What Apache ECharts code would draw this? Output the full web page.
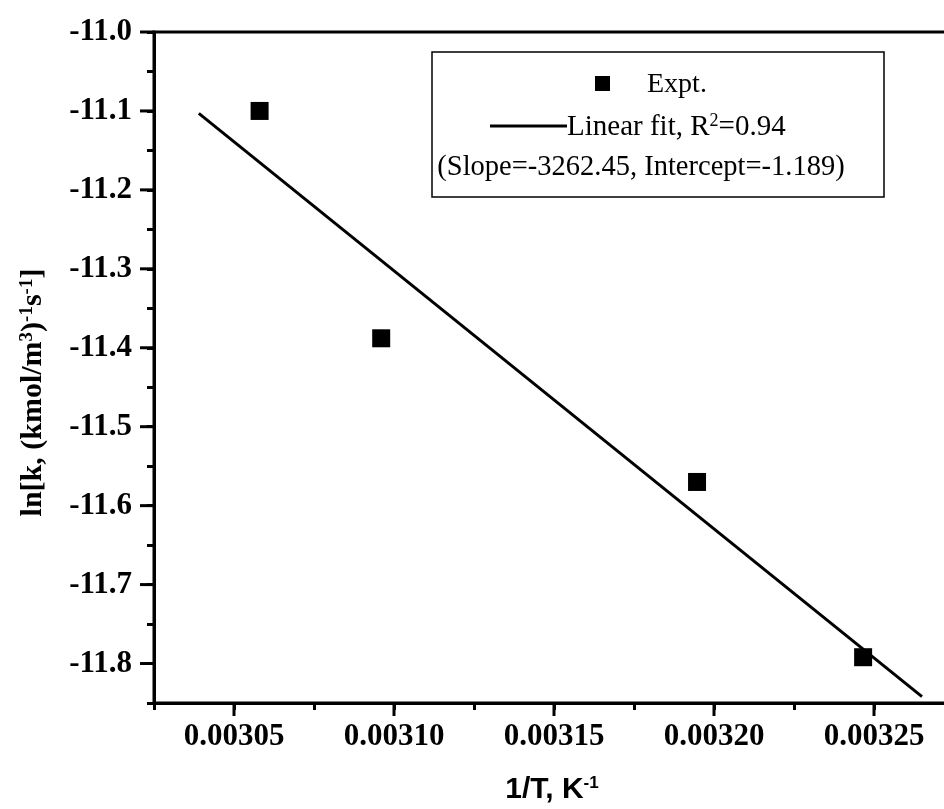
<!DOCTYPE html>
<html>
<head>
<meta charset="utf-8">
<script src="https://cdn.jsdelivr.net/npm/echarts@6/dist/echarts.min.js"></script>
<style>
html,body{margin:0;padding:0;background:#fff;}
#chart{width:944px;height:809px;}
</style>
</head>
<body>
<div id="chart"></div>
<script>
// ---- data ----
const exptX = [0.003058, 0.003096, 0.0031947, 0.0032466];
const exptY = [-11.100, -11.388, -11.570, -11.792];
const fitX = [0.003039, 0.003265];
const fitY = [-11.103, -11.842];
const xMajorTicks = [0.00305, 0.00310, 0.00315, 0.00320, 0.00325];
const yMajorTicks = [-11.8, -11.7, -11.6, -11.5, -11.4, -11.3, -11.2, -11.1, -11.0];
const legendExpt = 'Expt.';
const legendFit = 'Linear fit, R{sup|2}=0.94';
const legendFitParams = '(Slope=-3262.45, Intercept=-1.189)';
const xTitle = '1/T, K{sup|-1}';
const yTitle = 'ln[k, (kmol/m{sup|3}){sup|-1}s{sup|-1}]';

const X_MIN = 0.003025, X_MAX = 0.00328, X_MINOR = 0.000025;
const Y_MIN = -11.85, Y_MAX = -11.0, Y_MINOR = 0.05;

const serif = '"Liberation Serif", "Times New Roman", serif';
const sans = '"Liberation Sans", Arial, sans-serif';

const chart = echarts.init(document.getElementById('chart'), null, {renderer: 'canvas'});

function isMajor(v, step) {
  const r = v / step;
  return Math.abs(r - Math.round(r)) < 1e-6;
}

const axisLineStyle = {show: true, onZero: false, lineStyle: {color: '#000', width: 3}};

// long (major) ticks drawn through the axis scales
function majorTickSeries(values, dir) {
  return {
    type: 'custom',
    xAxisIndex: 0, yAxisIndex: 0,
    clip: false,
    silent: true,
    z: 5,
    data: values.map(v => dir === 'x' ? [v, Y_MIN] : [X_MIN, v]),
    renderItem: (params, api) => {
      const p = api.coord([api.value(0), api.value(1)]);
      const shape = dir === 'x'
        ? {x1: p[0], y1: p[1], x2: p[0], y2: p[1] + 13}
        : {x1: p[0] - 14, y1: p[1], x2: p[0], y2: p[1]};
      return {type: 'line', shape: shape, style: {stroke: '#000', lineWidth: 3, lineCap: 'butt'}};
    }
  };
}

const option = {
  backgroundColor: '#fff',
  animation: false,
  grid: {
    left: 154, top: 32, bottom: 106, right: -26,
    outerBoundsMode: 'none',
    containLabel: false,
    show: true, borderColor: '#000', borderWidth: 3, backgroundColor: 'transparent'
  },
  xAxis: {
    type: 'value', position: 'bottom',
    min: X_MIN, max: X_MAX, interval: X_MINOR,
    axisLine: axisLineStyle,
    axisTick: {show: true, length: 7, lineStyle: {color: '#000', width: 3}},
    splitLine: {show: false},
    axisLabel: {
      margin: 18,
      color: '#000', fontFamily: serif, fontWeight: 'bold', fontSize: 31,
      formatter: v => isMajor(v, 0.00005) ? v.toFixed(5) : ''
    },
    name: xTitle,
    nameLocation: 'middle',
    nameGap: 72,
    nameTextStyle: {
      color: '#000', fontFamily: sans, fontWeight: 'bold', fontSize: 30,
      padding: [0, 20, 0, 0],
      rich: {sup: {fontFamily: sans, fontWeight: 'bold', fontSize: 17, verticalAlign: 'top', color: '#000'}}
    }
  },
  yAxis: {
    type: 'value', position: 'left',
    min: Y_MIN, max: Y_MAX, interval: Y_MINOR,
    axisLine: axisLineStyle,
    axisTick: {show: true, length: 7, lineStyle: {color: '#000', width: 3}},
    splitLine: {show: false},
    axisLabel: {
      margin: 22,
      color: '#000', fontFamily: serif, fontWeight: 'bold', fontSize: 31,
      formatter: v => isMajor(v, 0.1) ? v.toFixed(1) : ''
    },
    name: yTitle,
    nameLocation: 'middle',
    nameRotate: 90,
    nameGap: 106,
    nameTextStyle: {
      color: '#000', fontFamily: serif, fontWeight: 'bold', fontSize: 30,
      padding: [0, 50, 0, 0],
      rich: {sup: {fontFamily: serif, fontWeight: 'bold', fontSize: 19, verticalAlign: 'top', color: '#000'}}
    }
  },
  series: [
    {
      name: 'Linear fit',
      type: 'line',
      data: fitX.map((x, i) => [x, fitY[i]]),
      showSymbol: false, symbol: 'none',
      lineStyle: {color: '#000', width: 3},
      z: 2
    },
    {
      name: 'Expt.',
      type: 'scatter',
      data: exptX.map((x, i) => [x, exptY[i]]),
      symbol: 'rect', symbolSize: 18,
      itemStyle: {color: '#000', opacity: 1},
      z: 3
    },
    majorTickSeries(xMajorTicks, 'x'),
    majorTickSeries(yMajorTicks, 'y')
  ],
  graphic: [
    {type: 'rect', shape: {x: 432, y: 52, width: 452, height: 145},
     style: {fill: '#fff', stroke: '#000', lineWidth: 1.5}, z: 10},
    {type: 'rect', shape: {x: 595, y: 76, width: 15, height: 15},
     style: {fill: '#000'}, z: 11},
    {type: 'text', x: 647, y: 85, z: 11,
     style: {text: legendExpt, font: '28px ' + serif, fill: '#000', align: 'left', verticalAlign: 'middle'}},
    {type: 'line', shape: {x1: 490, y1: 126, x2: 567, y2: 126},
     style: {stroke: '#000', lineWidth: 3}, z: 11},
    {type: 'text', x: 567, y: 127, z: 11,
     style: {text: legendFit, font: '29px ' + serif, fill: '#000', align: 'left', verticalAlign: 'middle',
       rich: {sup: {fontSize: 18, fontFamily: serif, verticalAlign: 'top', fill: '#000'}}}},
    {type: 'text', x: 641, y: 168, z: 11,
     style: {text: legendFitParams, font: '28.5px ' + serif, fill: '#000', align: 'center', verticalAlign: 'middle'}}
  ]
};
chart.setOption(option);
</script>
</body>
</html>
